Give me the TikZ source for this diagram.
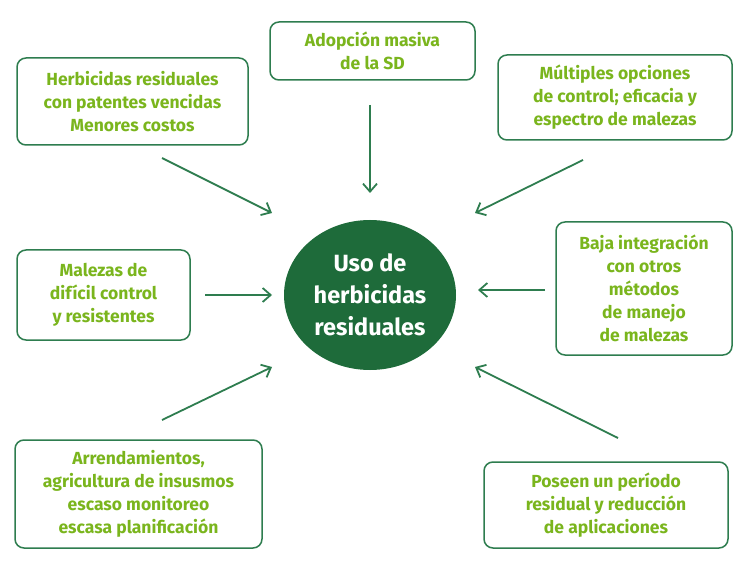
\documentclass[tikz,border=0pt]{standalone}
\usepackage{fontspec}
\setmainfont{Fira Sans}
\usetikzlibrary{arrows.meta,shapes.geometric}
\definecolor{txtg}{HTML}{7AB51D}
\definecolor{boxg}{HTML}{2E7D4F}
\definecolor{ellg}{HTML}{1E6B3A}
\tikzset{
 bx/.style={draw=boxg,line width=1.5pt,rounded corners=9pt,text=txtg,font=\fontsize{17.5}{23}\selectfont\bfseries,align=center,inner sep=0pt},
 ar/.style={draw=boxg,line width=1.8pt,-{Straight Barb[length=8pt,width=14pt]}}
}
\begin{document}
\begin{tikzpicture}[x=1pt,y=-1pt]
\useasboundingbox (0,0) rectangle (755,577);
\node[draw=none,fill=ellg,ellipse,inner sep=0pt,minimum width=172pt,minimum height=150pt,text=white,font=\fontsize{23.5}{32}\selectfont\bfseries,align=center] (e) at (370,295) {Uso de\\herbicidas\\residuales};
\node[bx,minimum width=205pt,minimum height=58pt] (t) at (372.5,51) {Adopción masiva\\de la SD};
\node[bx,minimum width=231pt,minimum height=87pt] (tl) at (132.5,101.5) {Herbicidas residuales\\con patentes vencidas\\Menores costos};
\node[bx,minimum width=234pt,minimum height=85pt] (tr) at (615,97.5) {Múltiples opciones\\de control; eficacia y\\espectro de malezas};
\node[bx,minimum width=173pt,minimum height=90pt] (ml) at (103.5,295) {Malezas de\\difícil control\\y resistentes};
\node[bx,minimum width=176pt,minimum height=133pt] (mr) at (644,288.5) {Baja integración\\con otros\\métodos\\de manejo\\de malezas};
\node[bx,minimum width=247pt,minimum height=108pt] (bl) at (138.5,494) {Arrendamientos,\\agricultura de insusmos\\escaso monitoreo\\escasa planificación};
\node[bx,minimum width=244pt,minimum height=86pt] (br) at (606,505) {Poseen un período\\residual y reducción\\de aplicaciones};
\coordinate (a1) at (370,105); \coordinate (b1) at (370,193);
\coordinate (a2) at (162,158); \coordinate (b2) at (272,213);
\coordinate (a3) at (583,160); \coordinate (b3) at (475,213);
\coordinate (a4) at (205,295); \coordinate (b4) at (272,295);
\coordinate (a5) at (545,290); \coordinate (b5) at (478,290);
\coordinate (a6) at (162,420); \coordinate (b6) at (272,367);
\coordinate (a7) at (618,438); \coordinate (b7) at (475,367);
\foreach \i in {1,...,7} \draw[ar] (a\i) -- (b\i);
\end{tikzpicture}
\end{document}
